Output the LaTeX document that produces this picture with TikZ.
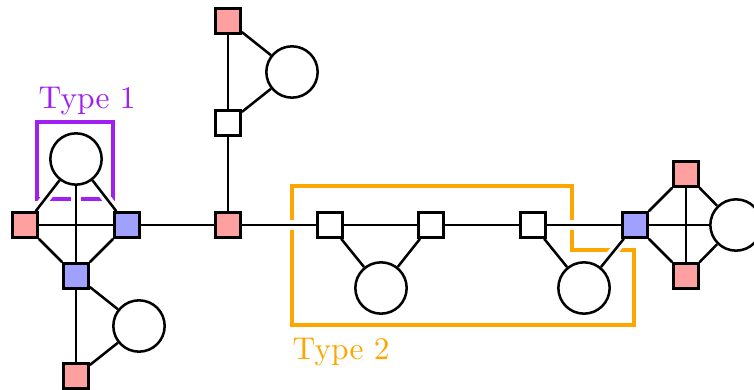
\documentclass[tikz,border=0pt]{standalone}
\begin{document}
\definecolor{redfill}{HTML}{FFA0A0}
\definecolor{bluefill}{HTML}{A0A0FF}
\definecolor{typeone}{HTML}{A020F0}
\definecolor{typetwo}{HTML}{FFA500}
\pgfdeclarelayer{frames}
\pgfdeclarelayer{halos}
\pgfdeclarelayer{edges}
\pgfsetlayers{frames,halos,edges,main}
\begin{tikzpicture}[x=0.3175pt,y=-0.3175pt,
  sq/.style={rectangle,draw,line width=0.8pt,minimum size=8pt,inner sep=0pt,fill=white},
  rsq/.style={sq,fill=redfill},
  bsq/.style={sq,fill=bluefill},
  circ/.style={circle,draw,line width=0.8pt,minimum size=16.3pt,inner sep=0pt,fill=white},
  halo/.style={draw=white,line width=3pt},
  edge/.style={draw=black,line width=0.8pt},
  frame/.style={line width=1.05pt,line join=miter}]
\useasboundingbox (0,0) rectangle (754,390);

% vertices
\node[rsq]  (A) at (25,225) {};
\node[bsq]  (B) at (127,225) {};
\node[circ] (C) at (76,159) {};
\node[bsq]  (D) at (76,276) {};
\node[circ] (E) at (139,326) {};
\node[rsq]  (F) at (76,376) {};
\node[rsq]  (G) at (228,225) {};
\node[sq]   (H) at (228,123) {};
\node[rsq]  (I) at (228,21) {};
\node[circ] (J) at (292,72) {};
\node[sq]   (K) at (330,225) {};
\node[sq]   (L) at (431,225) {};
\node[circ] (M) at (381,288) {};
\node[sq]   (N) at (533,225) {};
\node[circ] (O) at (584,288) {};
\node[bsq]  (P) at (635,225) {};
\node[rsq]  (Q) at (686,174) {};
\node[rsq]  (R) at (686,276) {};
\node[circ] (S) at (736,225) {};

% corner points of the two outlined regions
\coordinate (t1a) at (37,122);
\coordinate (t1b) at (113,122);
\coordinate (t1c) at (113,199);
\coordinate (t1d) at (37,199);
\coordinate (t2a) at (292,186);
\coordinate (t2b) at (572,186);
\coordinate (t2c) at (572,250);
\coordinate (t2d) at (634,250);
\coordinate (t2e) at (634,325);
\coordinate (t2f) at (292,325);

\begin{pgfonlayer}{frames}
  \draw[frame,typeone] (t1a) -- (t1b) -- (t1c) -- (t1d) -- cycle;
  \draw[frame,typetwo] (t2a) -- (t2b) -- (t2c) -- (t2d) -- (t2e) -- (t2f) -- cycle;
\end{pgfonlayer}

\def\edgelist{A/B,A/C,B/C,C/D,A/D,B/D,D/F,D/E,F/E,B/G,G/K,K/L,L/N,N/P,G/H,H/I,H/J,I/J,K/M,L/M,N/O,P/O,P/Q,P/R,Q/R,Q/S,R/S,P/S}

% edges: a white border cuts the outlines where an edge crosses them
\begin{pgfonlayer}{halos}
  \foreach \u/\v in \edgelist { \draw[halo] (\u) -- (\v); }
\end{pgfonlayer}
\begin{pgfonlayer}{edges}
  \foreach \u/\v in \edgelist { \draw[edge] (\u) -- (\v); }
\end{pgfonlayer}

% labels
\node[anchor=base west,inner sep=0pt,text=typeone] (lab1) at (38,109) {Type 1};
\node[anchor=base west,inner sep=0pt,text=typetwo] (lab2) at (292,360) {Type 2};
\end{tikzpicture}
\end{document}
